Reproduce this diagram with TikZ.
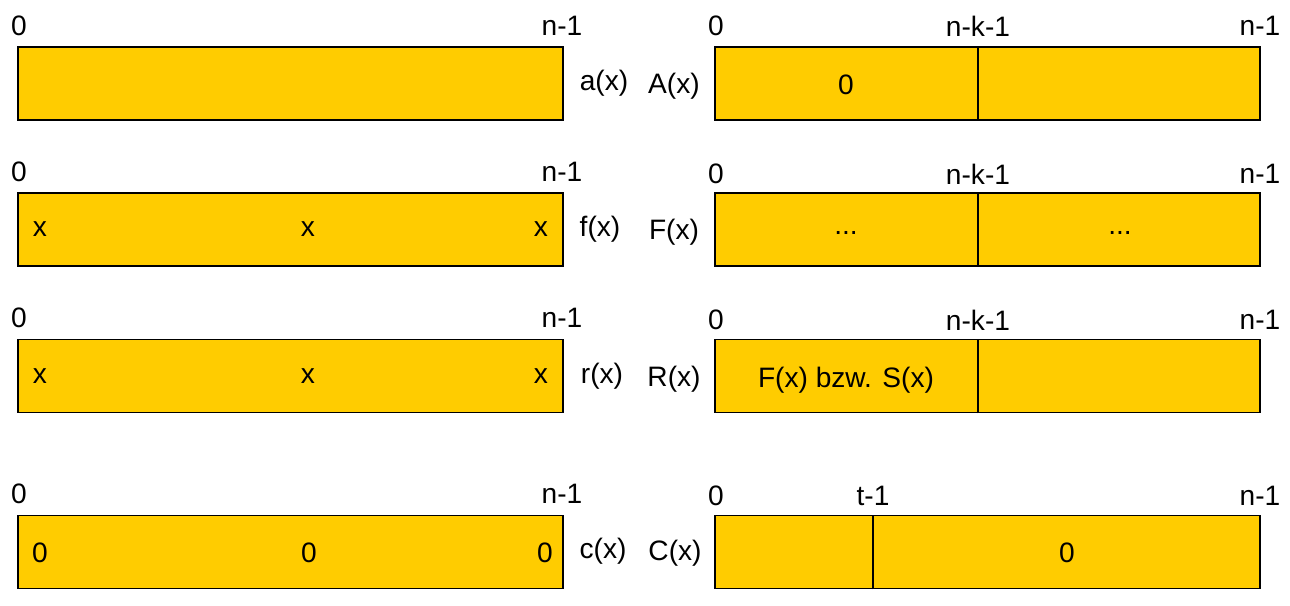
\documentclass[tikz,border=0pt]{standalone}
\usepackage{fontspec}
\setmainfont{Liberation Sans}
\definecolor{barfill}{HTML}{FFCC00}
\tikzset{
  bar/.style={draw, line width=1.1pt, fill=barfill, minimum width=10.9cm, minimum height=1.46cm, inner sep=0pt},
  lbl/.style={inner sep=0pt}
}
\begin{document}
\begin{tikzpicture}[x=0.02cm, y=-0.02cm, font=\fontsize{16}{19}\selectfont]
\useasboundingbox (0,0) rectangle (1290,605);

\node[bar] (a) at (290.5,83.5) {};
\node[bar] (A) at (987.5,83.5) {};
\node[bar] (f) at (290.5,229.5) {};
\node[bar] (F) at (987.5,229.5) {};
\node[bar] (r) at (290.5,376) {};
\node[bar] (R) at (987.5,376) {};
\node[bar] (c) at (290.5,552) {};
\node[bar] (C) at (987.5,552) {};

% split points
\coordinate (kA) at (978,0);
\coordinate (kF) at (978,0);
\coordinate (kR) at (978,0);
\coordinate (tC) at (873,0);
\draw[line width=1.1pt] (A.south -| kA) -- (A.north -| kA);
\draw[line width=1.1pt] (F.south -| kF) -- (F.north -| kF);
\draw[line width=1.1pt] (R.south -| kR) -- (R.north -| kR);
\draw[line width=1.1pt] (C.south -| tC) -- (C.north -| tC);

% index labels
\node[lbl] (a0) at (19,26) {0};
\node[lbl] (an) at (562,26) {n-1};
\node[lbl] (A0) at (716,26) {0};
\node[lbl] (Ak) at (978,26) {n-k-1};
\node[lbl] (An) at (1260,26) {n-1};
\node[lbl] (f0) at (19,172) {0};
\node[lbl] (fn) at (562,172) {n-1};
\node[lbl] (F0) at (716,174) {0};
\node[lbl] (Fk) at (978,174) {n-k-1};
\node[lbl] (Fn) at (1260,174) {n-1};
\node[lbl] (r0) at (19,318) {0};
\node[lbl] (rn) at (562,318) {n-1};
\node[lbl] (R0) at (716,320) {0};
\node[lbl] (Rk) at (978,320) {n-k-1};
\node[lbl] (Rn) at (1260,320) {n-1};
\node[lbl] (c0) at (19,494) {0};
\node[lbl] (cn) at (562,494) {n-1};
\node[lbl] (C0) at (716,496) {0};
\node[lbl] (Ct) at (873,496) {t-1};
\node[lbl] (Cn) at (1260,496) {n-1};

% names
\node[lbl] (na) at (604,83) {a(x)};
\node[lbl] (nA) at (674,86) {A(x)};
\node[lbl] (nf) at (600,229) {f(x)};
\node[lbl] (nF) at (674,232) {F(x)};
\node[lbl] (nr) at (602,376) {r(x)};
\node[lbl] (nR) at (674,379) {R(x)};
\node[lbl] (nc) at (603,551) {c(x)};
\node[lbl] (nC) at (675,553) {C(x)};

% contents
\node[lbl] (f1) at (40,229) {x};
\node[lbl] (f2) at (308,229) {x};
\node[lbl] (f3) at (541,229) {x};
\node[lbl] (r1) at (40,376) {x};
\node[lbl] (r2) at (308,376) {x};
\node[lbl] (r3) at (541,376) {x};
\node[lbl] (c1) at (40,553) {0};
\node[lbl] (c2) at (309,553) {0};
\node[lbl] (c3) at (545,553) {0};
\node[lbl] (A1) at (846,85) {0};
\node[lbl] (F1) at (846,233) {...};
\node[lbl] (F2) at (1120,233) {...};
\node[lbl] (R1) at (846,380) {F(x) bzw. S(x)};
\node[lbl] (C1) at (1067,553) {0};
\end{tikzpicture}
\end{document}
